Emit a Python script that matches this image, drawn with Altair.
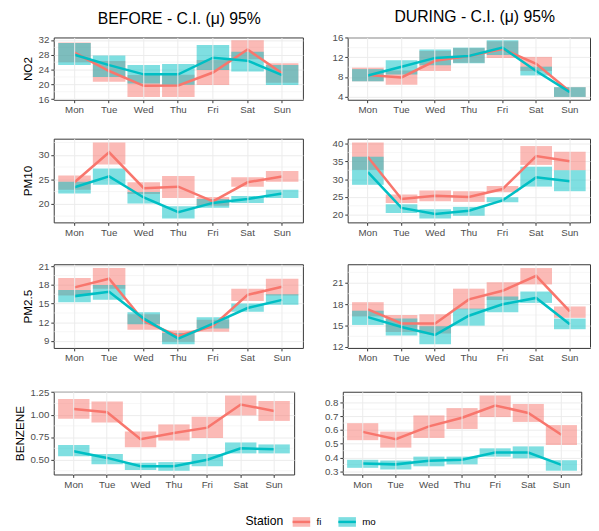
import altair as alt
import pandas as pd

DAYS = ["Mon", "Tue", "Wed", "Thu", "Fri", "Sat", "Sun"]
STATIONS = ["fi", "mo"]
COLORS = ["#F8766D", "#00BFC4"]
POLLUTANTS = ["NO2", "PM10", "PM2.5", "BENZENE"]
PERIODS = ["BEFORE", "DURING"]
PERIOD_TITLES = ["BEFORE - C.I. (\u03bc) 95%", "DURING - C.I. (\u03bc) 95%"]

# each tuple: (mean, lower CI, upper CI) for Mon..Sun
NO2_BEFORE_FI = ([28.6, 23.6, 19.6, 19.7, 23.2, 29.4, 23.0],
                 [26.0, 20.7, 16.6, 16.6, 19.8, 26.8, 20.4],
                 [31.3, 26.3, 22.5, 22.6, 26.6, 31.9, 25.7])
NO2_BEFORE_MO = ([28.0, 25.2, 22.7, 22.7, 27.2, 26.4, 22.5],
                 [25.2, 22.0, 20.2, 19.9, 23.9, 23.5, 19.8],
                 [31.2, 27.8, 25.2, 25.5, 30.6, 28.8, 25.2])
NO2_DURING_FI = ([8.4, 7.9, 11.3, 12.3, 13.7, 10.7, 5.0],
                 [7.1, 6.4, 9.2, 10.9, 11.9, 9.2, 3.9],
                 [9.9, 9.3, 13.3, 13.9, 15.3, 12.1, 5.9])
NO2_DURING_MO = ([8.3, 10.1, 11.9, 12.3, 14.0, 9.2, 4.9],
                 [7.1, 8.5, 10.4, 10.8, 12.5, 8.3, 3.9],
                 [9.6, 11.4, 13.6, 14.0, 15.5, 10.1, 5.9])

PM10_BEFORE_FI = ([24.4, 30.5, 23.2, 23.5, 20.5, 24.4, 25.6],
                  [22.9, 28.0, 22.0, 21.2, 19.6, 23.5, 24.5],
                  [25.8, 32.5, 24.4, 25.7, 21.4, 25.4, 26.7])
PM10_BEFORE_MO = ([23.4, 25.6, 21.3, 18.3, 20.2, 21.0, 22.1],
                  [22.1, 23.9, 20.1, 17.0, 19.2, 20.2, 21.2],
                  [24.5, 27.2, 22.4, 19.5, 21.0, 21.6, 22.9])
PM10_DURING_FI = ([36.2, 24.4, 25.3, 25.0, 27.2, 36.5, 35.0],
                  [32.6, 23.3, 23.8, 23.6, 26.3, 34.0, 32.5],
                  [40.3, 25.7, 26.8, 26.6, 28.1, 39.3, 37.7])
PM10_DURING_MO = ([32.0, 21.9, 20.2, 21.1, 24.0, 30.5, 29.4],
                  [28.4, 20.5, 18.9, 19.7, 23.5, 27.9, 26.6],
                  [36.3, 22.9, 21.5, 22.2, 24.9, 33.5, 32.5])

PM25_BEFORE_FI = ([17.6, 19.0, 12.2, 9.8, 11.4, 16.4, 17.7],
                  [16.3, 17.4, 10.8, 8.9, 10.5, 15.4, 16.3],
                  [19.1, 20.7, 13.3, 10.7, 12.4, 17.4, 19.0])
PM25_BEFORE_MO = ([16.2, 16.9, 12.6, 9.4, 11.8, 14.3, 15.6],
                  [15.2, 15.6, 11.7, 8.5, 11.0, 13.7, 14.8],
                  [17.2, 18.0, 13.6, 10.3, 12.8, 15.0, 16.5])
PM25_DURING_FI = ([17.3, 15.3, 15.3, 18.7, 19.9, 22.0, 17.0],
                  [16.3, 14.1, 13.9, 17.3, 18.6, 20.8, 16.1],
                  [18.3, 16.5, 16.6, 20.2, 21.1, 23.1, 17.7])
PM25_DURING_MO = ([16.2, 14.8, 13.7, 16.4, 18.0, 18.9, 15.2],
                  [15.1, 13.6, 12.4, 15.0, 16.9, 18.2, 14.5],
                  [17.1, 16.0, 14.9, 17.4, 19.1, 19.8, 16.0])

BENZ_BEFORE_FI = ([1.063, 1.027, 0.726, 0.794, 0.855, 1.113, 1.041],
                  [0.955, 0.912, 0.636, 0.711, 0.740, 0.991, 0.930],
                  [1.174, 1.145, 0.812, 0.891, 0.977, 1.213, 1.152])
BENZ_BEFORE_MO = ([0.593, 0.518, 0.425, 0.425, 0.497, 0.625, 0.615],
                  [0.536, 0.446, 0.382, 0.375, 0.425, 0.568, 0.568],
                  [0.661, 0.561, 0.464, 0.471, 0.561, 0.690, 0.668])
BENZ_DURING_FI = ([0.586, 0.533, 0.626, 0.688, 0.777, 0.723, 0.565],
                  [0.526, 0.472, 0.542, 0.607, 0.693, 0.658, 0.491],
                  [0.649, 0.588, 0.705, 0.758, 0.849, 0.788, 0.635])
BENZ_DURING_MO = ([0.358, 0.351, 0.377, 0.384, 0.437, 0.437, 0.347],
                  [0.326, 0.314, 0.337, 0.351, 0.407, 0.395, 0.305],
                  [0.384, 0.379, 0.407, 0.407, 0.467, 0.481, 0.381])

Y_BREAKS = {
    ("NO2", "BEFORE"): [16, 20, 24, 28, 32],
    ("NO2", "DURING"): [4, 8, 12, 16],
    ("PM10", "BEFORE"): [20, 25, 30],
    ("PM10", "DURING"): [20, 25, 30, 35, 40],
    ("PM2.5", "BEFORE"): [9, 12, 15, 18, 21],
    ("PM2.5", "DURING"): [12, 15, 18, 21],
    ("BENZENE", "BEFORE"): [0.5, 0.75, 1.0, 1.25],
    ("BENZENE", "DURING"): [0.3, 0.4, 0.5, 0.6, 0.7, 0.8],
}
Y_FORMAT = {"BENZENE": {"BEFORE": ".2f", "DURING": ".1f"}}

SERIES = {
    ("NO2", "BEFORE"): {"fi": NO2_BEFORE_FI, "mo": NO2_BEFORE_MO},
    ("NO2", "DURING"): {"fi": NO2_DURING_FI, "mo": NO2_DURING_MO},
    ("PM10", "BEFORE"): {"fi": PM10_BEFORE_FI, "mo": PM10_BEFORE_MO},
    ("PM10", "DURING"): {"fi": PM10_DURING_FI, "mo": PM10_DURING_MO},
    ("PM2.5", "BEFORE"): {"fi": PM25_BEFORE_FI, "mo": PM25_BEFORE_MO},
    ("PM2.5", "DURING"): {"fi": PM25_DURING_FI, "mo": PM25_DURING_MO},
    ("BENZENE", "BEFORE"): {"fi": BENZ_BEFORE_FI, "mo": BENZ_BEFORE_MO},
    ("BENZENE", "DURING"): {"fi": BENZ_DURING_FI, "mo": BENZ_DURING_MO},
}

FONT = "Liberation Sans"
LEG_X, LEG_Y = 197, 487
LEG_TITLE_SIZE = 12.5
LEG_TITLE_PAD = 8
# width of the "Station" title (Arial-metric advance widths, in em)
LEG_TITLE_W = 3.113 * LEG_TITLE_SIZE

fill_legend = alt.Legend(
    orient="none", legendX=LEG_X, legendY=LEG_Y, direction="horizontal",
    title="Station", titleOrient="left", titleFontSize=LEG_TITLE_SIZE, titleFontWeight="normal",
    titleColor="black", titlePadding=LEG_TITLE_PAD, labelFontSize=10, labelColor="black",
    symbolType="M-1,-0.55H1V0.55H-1Z", symbolSize=324, symbolOpacity=0.5,
    symbolStrokeColor="transparent", symbolStrokeWidth=2.5, columnPadding=12, labelOffset=5,
)
stroke_legend = alt.Legend(
    orient="none", legendX=LEG_X + LEG_TITLE_W + LEG_TITLE_PAD, legendY=LEG_Y,
    direction="horizontal", title=None, labelFontSize=10, labelColor="transparent",
    symbolType="stroke", symbolSize=324, symbolStrokeWidth=2.5, symbolOpacity=1,
    columnPadding=12, labelOffset=5,
)


def make_df(pol, per):
    rows = []
    for s in STATIONS:
        mean, lo, hi = SERIES[(pol, per)][s]
        for i, d in enumerate(DAYS):
            rows.append({"day": d, "idx": i, "station": s, "line_station": s,
                         "mean": mean[i], "lo": lo[i], "hi": hi[i]})
    return pd.DataFrame(rows)


def panel(pol, per, width, height, left, top_title, title_dx=0):
    df = make_df(pol, per)
    lo, hi = df["lo"].min(), df["hi"].max()
    r = hi - lo
    dom = [lo - 0.05 * r, hi + 0.05 * r]
    majors = Y_BREAKS[(pol, per)]
    step = majors[1] - majors[0]
    minors = [m + step / 2 for m in [majors[0] - step] + majors]
    minors = [m for m in minors if dom[0] <= m <= dom[1]]
    fmt = Y_FORMAT.get(pol, {}).get(per, "d")

    yscale = alt.Scale(domain=dom, nice=False, zero=False)
    xscale = alt.Scale(domain=DAYS, paddingInner=0.06, paddingOuter=0.13)
    xaxis = alt.Axis(title=None, labelAngle=0, bandPosition=0.5, grid=True)
    yaxis = alt.Axis(values=majors, format=fmt, title=pol if left else None, grid=True)

    minor = alt.Chart(pd.DataFrame({"v": minors})).mark_rule(
        color="#EFEFEF", strokeWidth=0.6
    ).encode(y=alt.Y("v:Q", scale=yscale, axis=yaxis))

    rect = alt.Chart(df).mark_rect(opacity=0.5, strokeWidth=0).encode(
        x=alt.X("day:N", scale=xscale, sort=DAYS, axis=xaxis),
        y=alt.Y("lo:Q", scale=yscale, axis=yaxis),
        y2="hi:Q",
        fill=alt.Fill("station:N", scale=alt.Scale(domain=STATIONS, range=COLORS), legend=fill_legend),
    )
    line = alt.Chart(df).mark_line(strokeWidth=2.6).encode(
        x=alt.X("day:N", scale=xscale, sort=DAYS, axis=xaxis, bandPosition=0.5),
        y=alt.Y("mean:Q", scale=yscale, axis=yaxis),
        stroke=alt.Stroke("line_station:N", scale=alt.Scale(range=COLORS), legend=stroke_legend),
        order="idx:Q",
    )
    ch = alt.layer(minor, rect, line).properties(width=width, height=height)
    if top_title:
        ch = ch.properties(title=alt.Title(
            top_title, fontSize=16.2, fontWeight="normal", color="black",
            anchor="middle", frame="group", offset=8, font=FONT, dx=title_dx,
        ))
    return ch


HEIGHTS = [64, 86, 86, 85]
rows = []
for ri, pol in enumerate(POLLUTANTS):
    if pol == "BENZENE":
        wl, wr, sp = 247, 245, 50
    else:
        wl, wr, sp = 256, 249, 46
    left = panel(pol, "BEFORE", wl, HEIGHTS[ri], True, PERIOD_TITLES[0] if ri == 0 else None, 1)
    right = panel(pol, "DURING", wr, HEIGHTS[ri], False, PERIOD_TITLES[1] if ri == 0 else None, 6)
    rows.append(
        alt.hconcat(left, right, spacing=sp, bounds="flush")
        .resolve_scale(x="independent", y="independent", fill="shared", stroke="shared")
    )

chart = (
    alt.concat(*rows, columns=1, spacing=23, align="none")
    .resolve_scale(x="independent", y="independent", fill="shared", stroke="shared")
    .properties(padding={"left": 5, "top": -7, "right": 0, "bottom": 0})
    .configure(font=FONT)
    .configure_view(stroke="#333333", strokeWidth=1)
    .configure_axis(
        domain=False, tickColor="#333333", tickSize=3, tickWidth=1,
        labelColor="#4D4D4D", labelFontSize=10, labelPadding=2, labelFont=FONT,
        gridColor="#EBEBEB", gridWidth=1,
        titleFontSize=12, titleFontWeight="normal", titleColor="black", titlePadding=4, titleFont=FONT,
    )
    .configure_legend(labelFont=FONT, titleFont=FONT)
)

chart.save("out.html", embed_options={"renderer": "svg", "actions": False})
